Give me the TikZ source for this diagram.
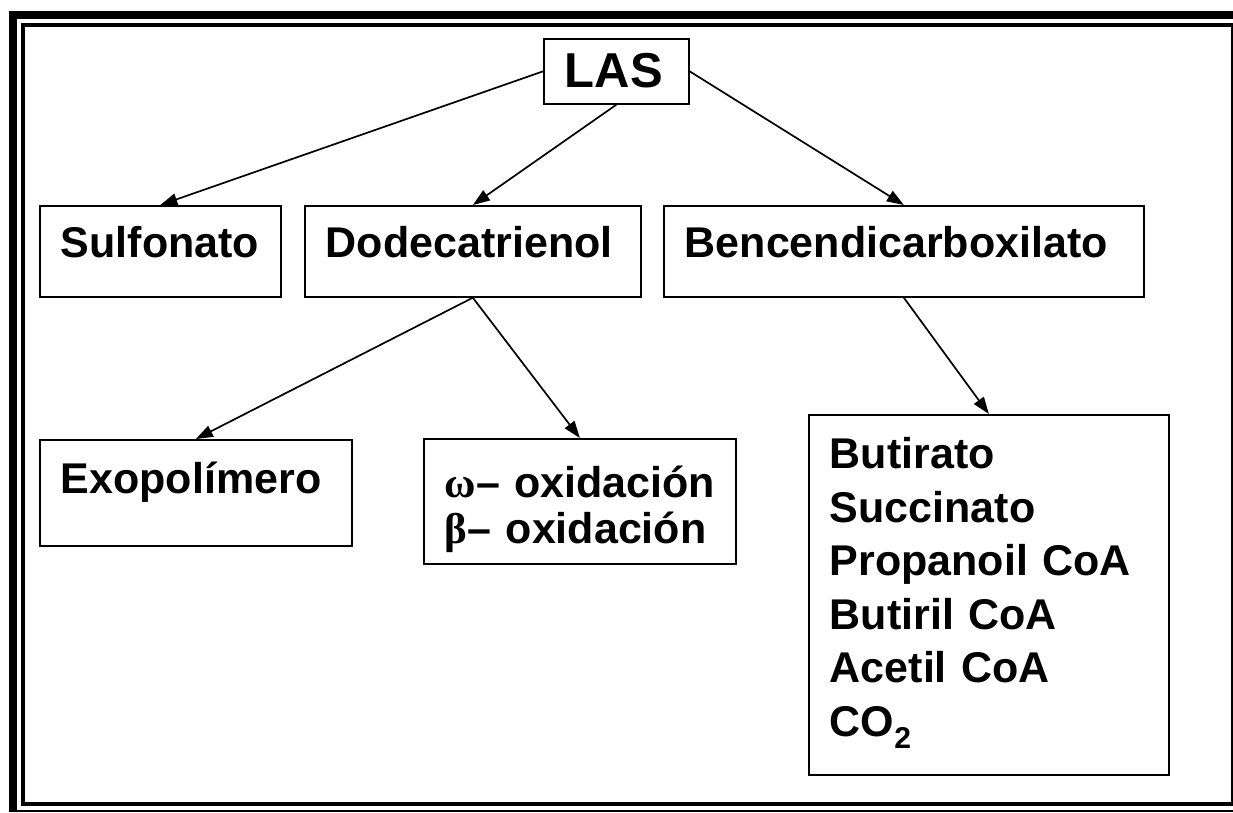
\documentclass[tikz,border=0pt]{standalone}
\usepackage{fontspec}
\setmainfont{Liberation Sans}
\newfontfamily\grk{Liberation Serif}
\usetikzlibrary{arrows.meta}
\begin{document}
\begin{tikzpicture}[x=1pt,y=-1pt,
  bx/.style={draw, line width=1.7pt, fill=white, anchor=north west, inner xsep=21pt, inner ysep=0pt,
    align=left, font=\fontsize{43}{53}\selectfont\bfseries},
  arr/.style={line width=1.7pt, -{Triangle[length=17pt,width=12pt]}}]
\useasboundingbox (0,0) rectangle (1233,812);
% frame
\fill (9,11) rectangle (17,812);
\fill (9,11) rectangle (1233,19);
\fill (17,810) rectangle (1233,812);
\fill (21,23) rectangle (25,806);
\fill (21,23) rectangle (1233,27);
\fill (1231,23) rectangle (1233,806);
\fill (21,802) rectangle (1233,806);
% boxes
\node[bx, font=\fontsize{49}{55}\selectfont\bfseries, text width=103pt, text height=49pt, text depth=16pt] (las) at (543,38) {LAS};
\node[bx, text width=199pt, text height=52pt, text depth=39pt] (sul) at (39,205) {Sulfonato};
\node[bx, text width=294pt, text height=52pt, text depth=39pt] (dod) at (304,205) {Dodecatrienol};
\node[bx, text width=438pt, text height=52pt, text depth=39pt] (ben) at (663,205) {Bencendicarboxilato};
\node[bx, text width=270pt, text height=54pt, text depth=52pt] (exo) at (39,439) {Exopolímero};
\node[bx, font=\fontsize{43}{46}\selectfont\bfseries, text width=270pt, text height=59pt, text depth=66pt] (oxi) at (423,438)
  {\mbox{{\grk\bfseries ω}– oxidación}\\\mbox{{\grk\bfseries β}– oxidación}};
\node[bx, font=\fontsize{43}{53.5}\selectfont\bfseries, text width=318pt, text height=54pt, text depth=306pt] (prod) at (808,414)
  {Butirato\\Succinato\\Propanoil CoA\\Butiril CoA\\Acetil CoA\\CO\textsubscript{2}};
% connectors
\draw[arr] (las.west) -- (sul.north);
\draw[arr] (las.south) -- (dod.north);
\draw[arr] (las.east) -- (ben.north);
\draw[arr] (dod.south) -- (exo.north);
\draw[arr] (dod.south) -- (oxi.north);
\draw[arr] (ben.south) -- (prod.north);
\end{tikzpicture}
\end{document}
